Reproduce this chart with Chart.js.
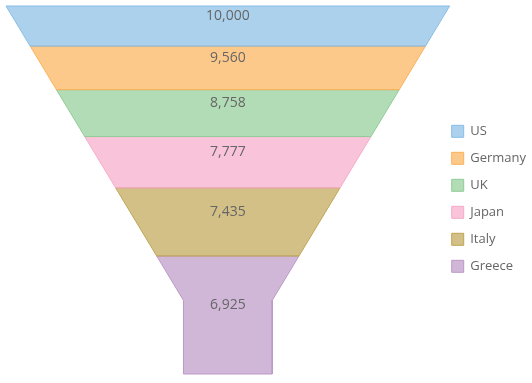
<!DOCTYPE html>
<html>
<head>
<meta charset="utf-8">
<script src="https://cdn.jsdelivr.net/npm/chart.js@4/dist/chart.umd.min.js"></script>
<style>
    html, body { margin: 0; padding: 0; background: #fff; }
    #wrap { width: 532px; height: 383px; }
</style>
</head>
<body>
<div id="wrap"><canvas id="funnel"></canvas></div>
<script>
const countries = ['US', 'Germany', 'UK', 'Japan', 'Italy', 'Greece'];
const sales = [10000, 9560, 8758, 7777, 7435, 6925];
const lineColors = ['#88bde6', '#fbb258', '#90cd97', '#f6aac9', '#bfa554', '#bc99c7'];
const fillColors = ['rgba(136,189,230,0.7)', 'rgba(251,178,88,0.7)', 'rgba(144,205,151,0.7)',
    'rgba(246,170,201,0.7)', 'rgba(191,165,84,0.7)', 'rgba(188,153,199,0.7)'];

// funnel shape in data units: top width 1, neck 20% wide and 20% tall
const neckWidth = 0.2;
const neckHeight = 0.2;
const neckTop = 1 - neckHeight;
const slope = (1 - neckWidth) / neckTop;
const topArea = neckTop * (1 + neckWidth) / 2;
const totalArea = topArea + neckWidth * neckHeight;

function widthAt(y) {
    return y >= neckTop ? neckWidth : 1 - slope * y;
}

// y where the cumulative area reaches a
function yForArea(a) {
    if (a >= topArea) {
        return neckTop + (a - topArea) / neckWidth;
    }
    return (1 - Math.sqrt(1 - 2 * slope * a)) / slope;
}

function segments() {
    const sum = sales.reduce((s, v) => s + v, 0);
    const result = [];
    let acc = 0;
    for (const v of sales) {
        const y0 = yForArea(acc / sum * totalArea);
        acc += v;
        const y1 = yForArea(acc / sum * totalArea);
        result.push([y0, y1]);
    }
    return result;
}

function polygon(y0, y1) {
    const right = [[widthAt(y0) / 2, y0]];
    if (y0 < neckTop && y1 > neckTop) {
        right.push([neckWidth / 2, neckTop]);
    }
    right.push([widthAt(y1) / 2, y1]);
    const left = right.slice().reverse().map(p => [-p[0], p[1]]);
    const pts = right.concat(left);
    pts.push(pts[0]);
    return pts.map(p => ({ x: p[0], y: p[1] }));
}

const segs = segments();

const labelPlugin = {
    id: 'funnelLabels',
    afterLayout(chart) {
        // the funnel runs slightly under the legend's left padding, keep the fill unclipped
        const right = chart.scales.x.getPixelForValue(0.5) + 2;
        chart.chartArea.right = Math.max(chart.chartArea.right, right);
    },
    afterDatasetsDraw(chart) {
        const ctx = chart.ctx;
        const xs = chart.scales.x;
        const ys = chart.scales.y;
        ctx.save();
        ctx.font = "14px 'Open Sans'";
        ctx.fillStyle = '#666';
        ctx.textAlign = 'center';
        ctx.textBaseline = 'middle';
        segs.forEach(([y0, y1], i) => {
            const py = ys.getPixelForValue((y0 + y1) / 2) - 10;
            ctx.fillText(sales[i].toLocaleString('en-US'), xs.getPixelForValue(0), py);
        });
        ctx.restore();
    }
};

Chart.defaults.font.family = "'Open Sans'";
Chart.defaults.font.size = 13;
Chart.defaults.color = '#666';

new Chart(document.getElementById('funnel'), {
    type: 'scatter',
    data: {
        datasets: countries.map((name, i) => ({
            label: name,
            data: polygon(segs[i][0], segs[i][1]),
            showLine: true,
            fill: 'shape',
            tension: 0,
            pointRadius: 0,
            borderWidth: 1,
            borderColor: lineColors[i],
            backgroundColor: fillColors[i],
            clip: false
        }))
    },
    options: {
        responsive: true,
        maintainAspectRatio: false,
        animation: false,
        events: [],
        layout: {
            padding: { left: 6, top: 6, bottom: 9, right: -4 }
        },
        scales: {
            x: { type: 'linear', min: -0.5, max: 0.473, display: false },
            y: { type: 'linear', min: 0, max: 1, reverse: true, display: false }
        },
        plugins: {
            legend: {
                position: 'right',
                title: { display: true, text: ' ', padding: { bottom: 2 } },
                labels: {
                    boxWidth: 12,
                    boxHeight: 12,
                    padding: 14,
                    color: '#666'
                }
            },
            tooltip: { enabled: false }
        }
    },
    plugins: [labelPlugin]
});
</script>
</body>
</html>
